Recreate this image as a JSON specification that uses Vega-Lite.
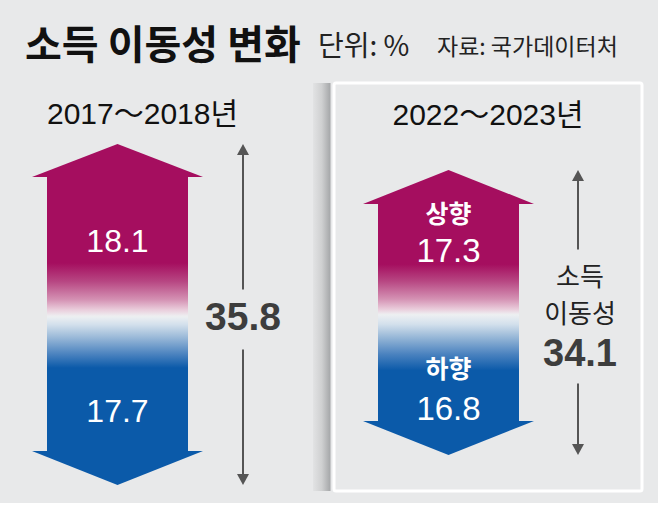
{
  "$schema": "https://vega.github.io/schema/vega-lite/v6.json",
  "background": "#e8e9ea",
  "padding": {"left": 0, "top": 27, "right": 16, "bottom": 10},
  "spacing": 14,
  "bounds": "flush",
  "config": {
    "view": {"stroke": null},
    "text": {"font": "Noto Sans CJK KR"},
    "title": {"font": "Noto Sans CJK KR"}
  },
  "hconcat": [
    {
      "width": 320,
      "height": 408,
      "title": {
        "text": "소득 이동성 변화",
        "anchor": "start",
        "dx": 25,
        "offset": 16,
        "fontSize": 40,
        "fontWeight": "bold",
        "color": "#111111"
      },
      "data": {"values": [{"period": "2017～2018년", "up": 18.1, "down": 17.7, "total": 35.8}]},
      "encoding": {
        "x": {"field": "period", "type": "nominal", "axis": null, "scale": {"paddingInner": 0, "paddingOuter": 0}}
      },
      "layer": [
        {
          "mark": {"type": "bar", "width": 141, "xOffset": -42.5, "yOffset": 32,
            "fill": {"gradient": "linear", "x1": 0, "y1": 0, "x2": 0, "y2": 1, "stops": [
              {"offset": 0, "color": "#a50e5f"}, {"offset": 0.62, "color": "#a50e5f"},
              {"offset": 0.75, "color": "#b74682"}, {"offset": 0.88, "color": "#d491b3"},
              {"offset": 0.95, "color": "#e9cbda"}, {"offset": 1, "color": "#eef0f2"}]}},
          "encoding": {
            "y": {"field": "total", "type": "quantitative", "axis": null, "scale": {"domain": [-0.63, 42.2], "nice": false, "zero": false}},
            "y2": {"field": "down"}
          }
        },
        {
          "mark": {"type": "bar", "width": 141, "xOffset": -42.5, "y2Offset": -33,
            "fill": {"gradient": "linear", "x1": 0, "y1": 0, "x2": 0, "y2": 1, "stops": [
              {"offset": 0, "color": "#eef0f2"}, {"offset": 0.06, "color": "#d3e0ec"},
              {"offset": 0.15, "color": "#9dbbd9"}, {"offset": 0.28, "color": "#4a82bf"},
              {"offset": 0.38, "color": "#0b5aa9"}, {"offset": 1, "color": "#0b5aa9"}]}},
          "encoding": {
            "y": {"field": "down", "type": "quantitative", "axis": null, "scale": {"domain": [-0.63, 42.2], "nice": false, "zero": false}},
            "y2": {"datum": 0}
          }
        },
        {
          "mark": {"type": "point", "shape": "M0,0L1,0.386L-1,0.386Z", "size": 29241, "filled": true, "opacity": 1, "color": "#a50e5f", "xOffset": -42.5},
          "encoding": {
            "y": {"field": "total", "type": "quantitative", "axis": null, "scale": {"domain": [-0.63, 42.2], "nice": false, "zero": false}}
          }
        },
        {
          "mark": {"type": "point", "shape": "M0,0L1,-0.398L-1,-0.398Z", "size": 29241, "filled": true, "opacity": 1, "color": "#0b5aa9", "xOffset": -42.5},
          "encoding": {
            "y": {"datum": 0, "type": "quantitative", "axis": null, "scale": {"domain": [-0.63, 42.2], "nice": false, "zero": false}}
          }
        },
        {
          "mark": {"type": "text", "font": "Liberation Sans", "fontSize": 32, "color": "white", "baseline": "middle", "dx": -42.5, "dy": 98},
          "encoding": {
            "y": {"field": "total", "type": "quantitative", "axis": null, "scale": {"domain": [-0.63, 42.2], "nice": false, "zero": false}},
            "text": {"field": "up", "type": "quantitative", "format": ".1f"}
          }
        },
        {
          "mark": {"type": "text", "font": "Liberation Sans", "fontSize": 32, "color": "white", "baseline": "middle", "dx": -42.5, "dy": -73},
          "encoding": {
            "y": {"datum": 0, "type": "quantitative", "axis": null, "scale": {"domain": [-0.63, 42.2], "nice": false, "zero": false}},
            "text": {"field": "down", "type": "quantitative", "format": ".1f"}
          }
        },
        {
          "mark": {"type": "text", "font": "Liberation Sans, Noto Sans CJK KR", "fontSize": 30, "color": "#111111", "baseline": "middle", "dx": -17.5, "dy": -29},
          "encoding": {
            "y": {"field": "total", "type": "quantitative", "axis": null, "scale": {"domain": [-0.63, 42.2], "nice": false, "zero": false}},
            "text": {"field": "period", "type": "nominal"}
          }
        },
        {
          "mark": {"type": "rule", "color": "#555555", "strokeWidth": 2, "xOffset": 83, "yOffset": 4, "y2Offset": -27},
          "encoding": {
            "y": {"field": "total", "type": "quantitative", "axis": null, "scale": {"domain": [-0.63, 42.2], "nice": false, "zero": false}},
            "y2": {"field": "down"}
          }
        },
        {
          "mark": {"type": "rule", "color": "#555555", "strokeWidth": 2, "xOffset": 83, "yOffset": 33, "y2Offset": -4},
          "encoding": {
            "y": {"field": "down", "type": "quantitative", "axis": null, "scale": {"domain": [-0.63, 42.2], "nice": false, "zero": false}},
            "y2": {"datum": 0}
          }
        },
        {
          "mark": {"type": "point", "shape": "M0,0L0.6,1.1L-0.6,1.1Z", "size": 400, "filled": true, "opacity": 1, "color": "#555555", "xOffset": 83},
          "encoding": {
            "y": {"field": "total", "type": "quantitative", "axis": null, "scale": {"domain": [-0.63, 42.2], "nice": false, "zero": false}}
          }
        },
        {
          "mark": {"type": "point", "shape": "M0,0L0.6,-1.1L-0.6,-1.1Z", "size": 400, "filled": true, "opacity": 1, "color": "#555555", "xOffset": 83},
          "encoding": {
            "y": {"datum": 0, "type": "quantitative", "axis": null, "scale": {"domain": [-0.63, 42.2], "nice": false, "zero": false}}
          }
        },
        {
          "mark": {"type": "text", "font": "Liberation Sans", "fontSize": 39, "fontWeight": "bold", "color": "#3d3d3d", "baseline": "middle", "dx": 83, "dy": 2},
          "encoding": {
            "y": {"field": "down", "type": "quantitative", "axis": null, "scale": {"domain": [-0.63, 42.2], "nice": false, "zero": false}},
            "text": {"field": "total", "type": "quantitative", "format": ".1f"}
          }
        }
      ]
    },
    {
      "width": 308,
      "height": 408,
      "view": {"stroke": "#ffffff", "strokeWidth": 3, "cornerRadius": 2},
      "data": {"values": [{"period": "2022～2023년", "up": 17.3, "down": 16.8, "total": 34.1}]},
      "encoding": {
        "x": {"field": "period", "type": "nominal", "axis": null, "scale": {"paddingInner": 0, "paddingOuter": 0}}
      },
      "layer": [
        {
          "mark": {"type": "bar", "width": 17.5, "xOffset": -166.25,
            "fill": {"gradient": "linear", "x1": 0, "y1": 0, "x2": 1, "y2": 0, "stops": [
              {"offset": 0, "color": "#e2e3e4"}, {"offset": 0.5, "color": "#cfd0d1"},
              {"offset": 1, "color": "#a4a6a8"}]}},
          "encoding": {
            "y": {"datum": 44.5, "type": "quantitative", "axis": null, "scale": {"domain": [-4.31, 44.5], "nice": false, "zero": false}},
            "y2": {"datum": -4.31}
          }
        },
        {
          "mark": {"type": "bar", "width": 141, "xOffset": -39.5, "yOffset": 33,
            "fill": {"gradient": "linear", "x1": 0, "y1": 0, "x2": 0, "y2": 1, "stops": [
              {"offset": 0, "color": "#a50e5f"}, {"offset": 0.55, "color": "#a50e5f"},
              {"offset": 0.7, "color": "#b74682"}, {"offset": 0.86, "color": "#d491b3"},
              {"offset": 0.95, "color": "#e9cbda"}, {"offset": 1, "color": "#eef0f2"}]}},
          "encoding": {
            "y": {"field": "total", "type": "quantitative", "axis": null, "scale": {"domain": [-4.31, 44.5], "nice": false, "zero": false}},
            "y2": {"field": "down"}
          }
        },
        {
          "mark": {"type": "bar", "width": 141, "xOffset": -39.5, "y2Offset": -33,
            "fill": {"gradient": "linear", "x1": 0, "y1": 0, "x2": 0, "y2": 1, "stops": [
              {"offset": 0, "color": "#eef0f2"}, {"offset": 0.09, "color": "#d3e0ec"},
              {"offset": 0.2, "color": "#9dbbd9"}, {"offset": 0.37, "color": "#4a82bf"},
              {"offset": 0.52, "color": "#0b5aa9"}, {"offset": 1, "color": "#0b5aa9"}]}},
          "encoding": {
            "y": {"field": "down", "type": "quantitative", "axis": null, "scale": {"domain": [-4.31, 44.5], "nice": false, "zero": false}},
            "y2": {"datum": 0}
          }
        },
        {
          "mark": {"type": "point", "shape": "M0,0L1,0.398L-1,0.398Z", "size": 29241, "filled": true, "opacity": 1, "color": "#a50e5f", "xOffset": -39.5},
          "encoding": {
            "y": {"field": "total", "type": "quantitative", "axis": null, "scale": {"domain": [-4.31, 44.5], "nice": false, "zero": false}}
          }
        },
        {
          "mark": {"type": "point", "shape": "M0,0L1,-0.398L-1,-0.398Z", "size": 29241, "filled": true, "opacity": 1, "color": "#0b5aa9", "xOffset": -39.5},
          "encoding": {
            "y": {"datum": 0, "type": "quantitative", "axis": null, "scale": {"domain": [-4.31, 44.5], "nice": false, "zero": false}}
          }
        },
        {
          "mark": {"type": "text", "fontSize": 28, "color": "#222222", "baseline": "middle", "align": "left", "dx": -170, "dy": -122, "text": "단위: %"},
          "encoding": {
            "y": {"field": "total", "type": "quantitative", "axis": null, "scale": {"domain": [-4.31, 44.5], "nice": false, "zero": false}}
          }
        },
        {
          "mark": {"type": "text", "fontSize": 23, "color": "#222222", "baseline": "middle", "align": "left", "dx": -51, "dy": -122, "text": "자료: 국가데이터처"},
          "encoding": {
            "y": {"field": "total", "type": "quantitative", "axis": null, "scale": {"domain": [-4.31, 44.5], "nice": false, "zero": false}}
          }
        },
        {
          "mark": {"type": "text", "fontSize": 25, "fontWeight": "bold", "color": "white", "baseline": "middle", "dx": -39.5, "dy": 45, "text": "상향"},
          "encoding": {
            "y": {"field": "total", "type": "quantitative", "axis": null, "scale": {"domain": [-4.31, 44.5], "nice": false, "zero": false}}
          }
        },
        {
          "mark": {"type": "text", "font": "Liberation Sans", "fontSize": 33, "color": "white", "baseline": "middle", "dx": -39.5, "dy": 82},
          "encoding": {
            "y": {"field": "total", "type": "quantitative", "axis": null, "scale": {"domain": [-4.31, 44.5], "nice": false, "zero": false}},
            "text": {"field": "up", "type": "quantitative", "format": ".1f"}
          }
        },
        {
          "mark": {"type": "text", "fontSize": 25, "fontWeight": "bold", "color": "white", "baseline": "middle", "dx": -39.5, "dy": -85, "text": "하향"},
          "encoding": {
            "y": {"datum": 0, "type": "quantitative", "axis": null, "scale": {"domain": [-4.31, 44.5], "nice": false, "zero": false}}
          }
        },
        {
          "mark": {"type": "text", "font": "Liberation Sans", "fontSize": 33, "color": "white", "baseline": "middle", "dx": -39.5, "dy": -45},
          "encoding": {
            "y": {"datum": 0, "type": "quantitative", "axis": null, "scale": {"domain": [-4.31, 44.5], "nice": false, "zero": false}},
            "text": {"field": "down", "type": "quantitative", "format": ".1f"}
          }
        },
        {
          "mark": {"type": "text", "font": "Liberation Sans, Noto Sans CJK KR", "fontSize": 30, "color": "#111111", "baseline": "middle", "dy": -54},
          "encoding": {
            "y": {"field": "total", "type": "quantitative", "axis": null, "scale": {"domain": [-4.31, 44.5], "nice": false, "zero": false}},
            "text": {"field": "period", "type": "nominal"}
          }
        },
        {
          "mark": {"type": "rule", "color": "#555555", "strokeWidth": 2, "xOffset": 90, "yOffset": 4, "y2Offset": -65},
          "encoding": {
            "y": {"field": "total", "type": "quantitative", "axis": null, "scale": {"domain": [-4.31, 44.5], "nice": false, "zero": false}},
            "y2": {"field": "down"}
          }
        },
        {
          "mark": {"type": "rule", "color": "#555555", "strokeWidth": 2, "xOffset": 90, "yOffset": 69, "y2Offset": -4},
          "encoding": {
            "y": {"field": "down", "type": "quantitative", "axis": null, "scale": {"domain": [-4.31, 44.5], "nice": false, "zero": false}},
            "y2": {"datum": 0}
          }
        },
        {
          "mark": {"type": "point", "shape": "M0,0L0.6,1.1L-0.6,1.1Z", "size": 400, "filled": true, "opacity": 1, "color": "#555555", "xOffset": 90},
          "encoding": {
            "y": {"field": "total", "type": "quantitative", "axis": null, "scale": {"domain": [-4.31, 44.5], "nice": false, "zero": false}}
          }
        },
        {
          "mark": {"type": "point", "shape": "M0,0L0.6,-1.1L-0.6,-1.1Z", "size": 400, "filled": true, "opacity": 1, "color": "#555555", "xOffset": 90},
          "encoding": {
            "y": {"datum": 0, "type": "quantitative", "axis": null, "scale": {"domain": [-4.31, 44.5], "nice": false, "zero": false}}
          }
        },
        {
          "mark": {"type": "text", "fontSize": 26, "color": "#222222", "baseline": "middle", "dx": 92, "dy": -37, "text": "소득"},
          "encoding": {
            "y": {"field": "down", "type": "quantitative", "axis": null, "scale": {"domain": [-4.31, 44.5], "nice": false, "zero": false}}
          }
        },
        {
          "mark": {"type": "text", "fontSize": 26, "color": "#222222", "baseline": "middle", "dx": 92, "dy": 0, "text": "이동성"},
          "encoding": {
            "y": {"field": "down", "type": "quantitative", "axis": null, "scale": {"domain": [-4.31, 44.5], "nice": false, "zero": false}}
          }
        },
        {
          "mark": {"type": "text", "font": "Liberation Sans", "fontSize": 38, "fontWeight": "bold", "color": "#3d3d3d", "baseline": "middle", "dx": 92, "dy": 40},
          "encoding": {
            "y": {"field": "down", "type": "quantitative", "axis": null, "scale": {"domain": [-4.31, 44.5], "nice": false, "zero": false}},
            "text": {"field": "total", "type": "quantitative", "format": ".1f"}
          }
        }
      ]
    }
  ]
}
